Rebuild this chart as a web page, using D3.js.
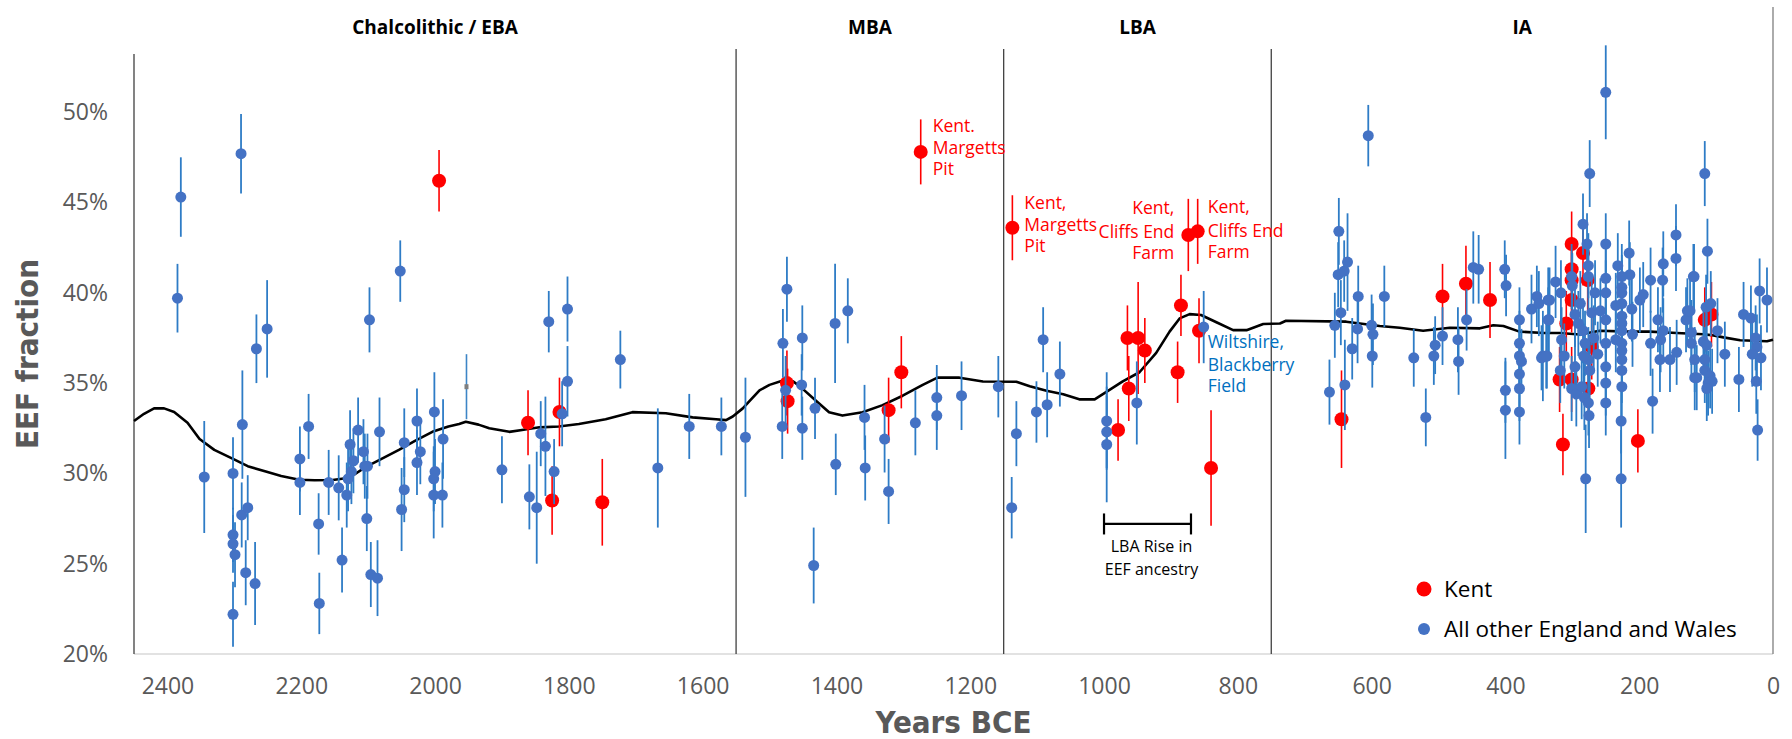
<!DOCTYPE html>
<html>
<head>
<meta charset="utf-8">
<script src="https://cdn.jsdelivr.net/npm/d3@7"></script>
<style>
  html, body { margin: 0; padding: 0; background: #ffffff; }
  svg { display: block; }
  .tick text { font-family: "Open Sans", "Noto Sans", sans-serif; font-size: 23px; fill: #595959; }
</style>
</head>
<body>
<svg id="chart" width="1792" height="739"></svg>
<script>
// Period divisions and axis ticks
const periodBounds = [2450, 1550, 1150, 750, 0];
const periodNames = ["Chalcolithic / EBA", "MBA", "LBA", "IA"];
const xTicks = [2400, 2200, 2000, 1800, 1600, 1400, 1200, 1000, 800, 600, 400, 200, 0];
const yTicks = [20, 25, 30, 35, 40, 45, 50];

// Kent samples: [years BCE, EEF %, error half-width %]
const kentPoints = [
  [1994, 46.2, 1.7], [1861, 32.8, 1.8], [1814, 33.4, 1.9], [1825, 28.5, 1.9], [1750, 28.4, 2.4],
  [1474, 35.0, 1.8], [1473, 34.0, 1.8], [1322, 33.5, 1.8], [1303, 35.6, 2.0], [1274, 47.8, 1.8],
  [1137, 43.6, 1.8], [979, 32.4, 1.7], [965, 37.5, 1.8], [963, 34.7, 1.8], [949, 37.5, 3.1],
  [939, 36.8, 1.8], [890, 35.6, 1.7], [885, 39.3, 1.7], [874, 43.2, 2.0], [860, 43.4, 1.8],
  [858, 37.9, 1.8], [840, 30.3, 3.2], [645, 33.0, 2.7], [494, 39.8, 1.8], [459, 40.5, 2.1],
  [423, 39.6, 2.1], [301, 42.7, 1.8], [284, 42.2, 1.8], [301, 41.3, 1.8], [301, 40.7, 1.8],
  [301, 39.6, 1.8], [277, 40.7, 1.8], [309, 38.3, 1.8], [271, 37.0, 1.8], [319, 35.2, 1.8],
  [301, 35.2, 1.8], [276, 34.7, 1.8], [314, 31.6, 1.7], [202, 31.8, 1.75], [102, 38.5, 1.8],
  [92, 38.8, 1.8]
];

// All other England and Wales samples: [years BCE, EEF %, error half-width %]
const otherPoints = [
  [2380, 45.3, 2.2], [2385, 39.7, 1.9], [2290, 47.7, 2.2], [2345, 29.8, 3.1], [2302, 30.0, 2.0],
  [2288, 32.7, 3.0], [2267, 36.9, 1.9], [2251, 38.0, 2.7], [2302, 26.6, 1.5], [2302, 26.1, 1.6],
  [2299, 25.5, 1.8], [2302, 22.2, 1.8], [2289, 27.7, 1.8], [2280, 28.1, 1.8], [2283, 24.5, 1.8],
  [2269, 23.9, 2.3], [2202, 30.8, 1.8], [2202, 29.5, 1.8], [2189, 32.6, 1.8], [2174, 27.2, 1.7],
  [2173, 22.8, 1.7], [2159, 29.5, 1.8], [2144, 29.2, 1.8], [2139, 25.2, 1.8], [2132, 28.8, 1.8],
  [2130, 29.7, 1.8], [2127, 31.6, 1.9], [2122, 30.7, 1.8], [2125, 30.1, 1.8], [2115, 32.4, 1.8],
  [2107, 31.2, 1.8], [2105, 30.4, 1.8], [2102, 27.5, 1.8], [2101, 30.4, 1.8], [2098, 38.5, 1.8],
  [2096, 24.4, 1.8], [2086, 24.2, 2.1], [2083, 32.3, 1.9], [2052, 41.2, 1.7], [2050, 28.0, 2.3],
  [2046, 31.7, 1.9], [2046, 29.1, 1.8], [2027, 32.9, 1.8], [2027, 30.6, 1.8], [2022, 31.2, 1.8],
  [2001, 33.4, 2.2], [2000, 30.1, 1.8], [2002, 29.7, 1.8], [2002, 28.8, 2.4], [1988, 31.9, 2.2],
  [1989, 28.8, 1.8],
  [1900, 30.2, 1.85], [1859, 28.7, 1.8], [1848, 28.1, 3.1], [1842, 32.2, 1.8], [1835, 31.5, 2.75],
  [1830, 38.4, 1.7], [1822, 30.1, 1.8], [1810, 33.3, 1.8], [1802, 39.1, 1.8], [1802, 35.1, 1.95],
  [1723, 36.3, 1.6], [1667, 30.3, 3.3], [1620, 32.6, 1.8], [1572, 32.6, 1.6], [1536, 32.0, 3.3],
  [1474, 40.2, 1.8], [1480, 37.2, 1.9], [1476, 34.6, 1.9], [1481, 32.6, 1.8], [1451, 37.5, 1.8],
  [1452, 34.9, 1.7], [1451, 32.5, 1.75], [1432, 33.6, 1.7], [1434, 24.9, 2.1], [1402, 38.3, 3.3],
  [1401, 30.5, 1.7], [1383, 39.0, 1.8], [1358, 33.1, 1.8], [1357, 30.3, 1.8], [1328, 31.9, 1.85],
  [1322, 29.0, 1.8], [1282, 32.8, 1.8], [1250, 34.2, 1.8], [1250, 33.2, 1.9], [1213, 34.3, 1.9],
  [1158, 34.8, 1.7],
  [1138, 28.1, 1.7], [1131, 32.2, 1.8], [1101, 33.4, 1.7], [1091, 37.4, 1.8], [1085, 33.8, 1.8],
  [1066, 35.5, 1.8], [996, 32.9, 2.7], [996, 32.3, 2.0], [996, 31.6, 3.2], [951, 33.9, 2.3],
  [851, 38.1, 2.0],
  [663, 34.5, 1.8], [655, 38.2, 1.8], [649, 43.4, 1.85], [650, 41.0, 1.8], [641, 41.2, 1.7],
  [636, 41.7, 2.7], [646, 38.9, 1.8], [640, 34.9, 2.5], [629, 36.9, 1.7], [621, 38.0, 1.9],
  [620, 39.8, 1.7], [605, 48.7, 1.7], [600, 38.2, 1.7], [598, 37.7, 1.7], [599, 36.5, 1.75],
  [581, 39.8, 1.7], [537, 36.4, 1.6], [519, 33.1, 1.6], [505, 37.1, 1.6], [507, 36.5, 1.6],
  [494, 37.6, 1.6], [471, 37.4, 1.8], [470, 36.2, 1.85], [458, 38.5, 1.7], [448, 41.4, 2.0],
  [440, 41.3, 1.9],
  [401, 41.3, 1.6], [399, 40.4, 1.7], [400, 34.6, 1.8], [400, 33.5, 2.7], [379, 38.5, 1.8],
  [379, 37.2, 1.8], [379, 36.5, 1.8], [376, 36.2, 1.8], [379, 35.5, 1.8], [379, 34.7, 1.8],
  [379, 33.4, 1.8], [361, 39.1, 1.9], [353, 39.8, 1.7], [350, 39.4, 1.8], [344, 36.5, 2.5],
  [346, 36.4, 1.8], [336, 39.6, 1.8], [336, 38.5, 1.8], [338, 36.5, 1.8],
  [334, 39.6, 1.8], [325, 40.6, 2.0], [317, 40.0, 1.8], [335, 38.5, 1.8], [339, 36.5, 1.8],
  [316, 37.4, 1.8], [312, 36.5, 1.8], [318, 35.7, 1.8], [301, 40.9, 1.8], [300, 40.4, 1.8],
  [296, 38.8, 1.8], [291, 38.3, 1.8], [284, 37.9, 1.8], [281, 37.2, 1.8], [276, 36.3, 1.8],
  [274, 35.7, 1.8], [296, 35.9, 1.8], [301, 34.7, 1.8], [294, 34.4, 1.8], [286, 34.8, 1.8],
  [282, 34.2, 1.8], [276, 33.9, 1.8], [275, 33.2, 1.8], [280, 29.7, 3.0], [276, 41.5, 1.8],
  [276, 40.9, 1.8], [266, 40.0, 1.8], [274, 46.6, 1.85], [284, 43.8, 1.7], [278, 42.7, 1.7],
  [250, 42.7, 1.7], [250, 40.8, 1.8], [250, 40.0, 1.8], [250, 38.5, 1.8], [250, 37.2, 1.8],
  [250, 35.9, 1.8], [250, 35.0, 1.8], [250, 33.9, 1.8], [250, 51.1, 2.6], [288, 39.4, 1.8],
  [283, 36.5, 1.8], [271, 38.9, 1.8], [268, 37.5, 1.8], [262, 36.6, 1.8], [258, 39.0, 1.8],
  [232, 41.5, 1.8], [235, 39.3, 1.8], [235, 37.4, 1.8], [227, 32.9, 1.8], [227, 29.7, 2.7],
  [215, 42.2, 1.8], [214, 41.0, 1.8], [226, 40.9, 1.8], [226, 40.3, 1.8], [226, 40.0, 1.8],
  [226, 39.4, 1.8], [211, 39.1, 1.8], [226, 38.7, 1.8], [226, 38.3, 1.8], [226, 37.9, 1.8],
  [226, 37.2, 1.8], [210, 37.7, 1.8], [226, 36.8, 1.8], [226, 36.3, 1.8], [226, 35.7, 1.8],
  [226, 34.8, 1.8],
  [199, 39.6, 1.8], [194, 39.9, 1.8], [183, 40.7, 1.8], [183, 37.2, 1.8], [180, 34.0, 1.8],
  [172, 38.5, 1.8], [164, 41.6, 1.8], [165, 40.7, 1.8], [164, 37.9, 1.8], [168, 37.4, 1.8],
  [169, 36.3, 1.8], [154, 36.3, 1.8], [144, 36.7, 1.8], [145, 43.2, 1.7], [145, 41.9, 1.8],
  [119, 40.9, 1.8], [130, 38.5, 1.8], [128, 39.0, 1.8], [122, 37.2, 1.8], [117, 35.3, 1.8],
  [102, 46.6, 1.8], [98, 42.3, 1.8], [118, 40.9, 1.8], [124, 39.0, 1.8], [100, 39.2, 1.8],
  [93, 39.4, 1.8], [83, 37.9, 1.8], [122, 37.8, 1.8], [104, 37.3, 1.8], [99, 37.1, 1.8],
  [117, 36.3, 1.8], [102, 36.3, 1.8], [102, 35.7, 1.8], [114, 35.3, 1.8], [94, 35.4, 1.8],
  [97, 35.0, 1.8], [91, 35.1, 1.8], [99, 34.7, 1.8], [72, 36.6, 1.8], [51, 35.2, 1.8],
  [44, 38.8, 1.8], [33, 38.6, 1.8], [20, 40.1, 1.8], [9, 39.6, 1.8], [26, 37.5, 1.8],
  [24, 37.0, 1.8], [18, 36.4, 1.8], [31, 36.6, 1.8], [25, 35.1, 1.8], [23, 32.4, 1.7]
];

// One sample drawn with a minimal marker
const minorPoints = [[1953, 34.8, 1.8]];

// Smoothed EEF trend: [years BCE, EEF %]
const trendPoints = [
  [2450, 32.9], [2435, 33.3], [2420, 33.6], [2405, 33.6], [2390, 33.4], [2370, 32.8], [2352, 31.9],
  [2330, 31.3], [2302, 30.8], [2280, 30.4], [2253, 30.1], [2230, 29.85], [2203, 29.65], [2180, 29.62],
  [2153, 29.63], [2128, 29.76], [2104, 30.35], [2080, 30.8], [2054, 31.3], [2030, 31.8], [2004, 32.3],
  [1980, 32.6], [1964, 32.73], [1954, 32.86], [1935, 32.7], [1919, 32.5], [1889, 32.3], [1870, 32.4],
  [1844, 32.55], [1815, 32.6], [1785, 32.73], [1745, 33.0], [1705, 33.39], [1655, 33.33], [1615, 33.1],
  [1580, 33.0], [1565, 32.95], [1555, 33.15], [1540, 33.6], [1530, 34.0], [1515, 34.6], [1500, 34.9],
  [1480, 35.14], [1465, 35.1], [1455, 34.83], [1431, 34.04], [1411, 33.39], [1391, 33.2], [1361, 33.39],
  [1331, 33.78], [1301, 34.3], [1271, 34.9], [1249, 35.3], [1216, 35.3], [1181, 35.09], [1131, 35.07],
  [1111, 34.83], [1086, 34.57], [1061, 34.38], [1037, 34.1], [1014, 34.1], [997, 34.5], [972, 35.09],
  [947, 35.6], [922, 36.67], [902, 37.85], [887, 38.58], [872, 38.82], [855, 38.77], [832, 38.37],
  [807, 37.93], [787, 37.93], [762, 38.27], [737, 38.3], [728, 38.45], [638, 38.4], [588, 38.16],
  [558, 38.06], [523, 37.9], [483, 38.06], [438, 38.03], [418, 38.2], [403, 38.16], [379, 37.85],
  [343, 37.77], [319, 37.77], [289, 37.69], [259, 37.9], [214, 37.85], [184, 37.85], [144, 37.77],
  [104, 37.7], [89, 37.64], [74, 37.53], [49, 37.37], [9, 37.32], [0, 37.4]
];

// Rise in EEF ancestry during the LBA
const riseSpan = [1000, 870];
const riseLevel = 27.2;

const svg = d3.select("#chart");
const plotLeft = 134, plotRight = 1773, plotTop = 54, plotBottom = 654;

const x = d3.scaleLinear().domain([2450, 0]).range([plotLeft, plotRight]);
const y = d3.scaleLinear().domain([20, 53.22]).range([plotBottom, plotTop]);

const sans = '"Open Sans", "Noto Sans", sans-serif';
const narrow = '"Liberation Sans Narrow", "DejaVu Sans Condensed", "Arial Narrow", sans-serif';

// Axis lines
svg.append("line").attr("x1", plotLeft).attr("x2", plotRight).attr("y1", plotBottom).attr("y2", plotBottom)
  .attr("stroke", "#d9d9d9").attr("stroke-width", 1.5);
svg.append("line").attr("x1", plotLeft).attr("x2", plotLeft).attr("y1", plotTop).attr("y2", plotBottom)
  .attr("stroke", "#404040").attr("stroke-width", 1.3);
svg.append("line").attr("x1", plotRight).attr("x2", plotRight).attr("y1", 7).attr("y2", plotBottom)
  .attr("stroke", "#7f7f7f").attr("stroke-width", 1.3);

// Period dividers
svg.selectAll(".divider").data(periodBounds.slice(1, -1)).join("line")
  .attr("class", "divider")
  .attr("x1", d => x(d)).attr("x2", d => x(d))
  .attr("y1", 49).attr("y2", plotBottom)
  .attr("stroke", "#404040").attr("stroke-width", 1.3);

// Period names
svg.selectAll(".period").data(periodNames).join("text")
  .attr("class", "period")
  .attr("x", (d, i) => x((periodBounds[i] + periodBounds[i + 1]) / 2))
  .attr("y", 34)
  .attr("text-anchor", "middle")
  .attr("font-family", sans).attr("font-weight", 700).attr("font-size", 19)
  .attr("fill", "#000")
  .text(d => d);

// Axes
const xAxis = svg.append("g").attr("transform", `translate(0,${plotBottom})`)
  .call(d3.axisBottom(x).tickValues(xTicks).tickSize(0).tickPadding(24).tickFormat(d3.format("d")));
xAxis.select(".domain").remove();

const yAxis = svg.append("g").attr("transform", `translate(${plotLeft},0)`)
  .call(d3.axisLeft(y).tickValues(yTicks).tickSize(0).tickPadding(26).tickFormat(d => d + "%"));
yAxis.select(".domain").remove();

// Axis titles
svg.append("text")
  .attr("x", (plotLeft + plotRight) / 2).attr("y", 733)
  .attr("text-anchor", "middle")
  .attr("font-family", narrow).attr("font-weight", 700).attr("font-size", 31)
  .attr("fill", "#595959")
  .text("Years BCE");

svg.append("text")
  .attr("transform", `translate(38,${(plotTop + plotBottom) / 2}) rotate(-90)`)
  .attr("text-anchor", "middle")
  .attr("font-family", narrow).attr("font-weight", 700).attr("font-size", 31)
  .attr("fill", "#595959")
  .text("EEF fraction");

// Trend line
const trendLine = d3.line().x(d => x(d[0])).y(d => y(d[1]));
svg.append("path").datum(trendPoints)
  .attr("d", trendLine)
  .attr("fill", "none").attr("stroke", "#000").attr("stroke-width", 2.6)
  .attr("stroke-linejoin", "round");

// Points with error bars
function drawSeries(points, barColor, fill, r, barWidth) {
  const g = svg.append("g");
  g.selectAll("line").data(points).join("line")
    .attr("x1", d => x(d[0])).attr("x2", d => x(d[0]))
    .attr("y1", d => y(d[1] + d[2])).attr("y2", d => y(d[1] - d[2]))
    .attr("stroke", barColor).attr("stroke-width", barWidth);
  g.selectAll("circle").data(points).join("circle")
    .attr("cx", d => x(d[0])).attr("cy", d => y(d[1])).attr("r", r)
    .attr("fill", fill);
}

drawSeries(kentPoints, "#ff0000", "#ff0000", 7, 1.6);
drawSeries(minorPoints, "#3d85c6", "none", 0, 1.6);
svg.selectAll(".minor").data(minorPoints).join("rect")
  .attr("class", "minor")
  .attr("x", d => x(d[0]) - 2).attr("y", d => y(d[1]) - 2.5)
  .attr("width", 4).attr("height", 5).attr("fill", "#7f7f7f");
drawSeries(otherPoints, "#2e7cc6", "#4472c4", 5.5, 1.8);

// Site annotations
function note(lines, year, val, dx, anchor, color, offsets) {
  const t = svg.append("text")
    .attr("font-family", sans).attr("font-size", 17.5).attr("fill", color)
    .attr("text-anchor", anchor);
  lines.forEach((s, i) => {
    t.append("tspan")
      .attr("x", x(year) + dx)
      .attr("y", y(val) + offsets[i] + 6)
      .text(s);
  });
}
const kentRed = "#ff0000";
note(["Kent.", "Margetts", "Pit"], 1274, 47.8, 12, "start", kentRed, [-26, -4, 17]);
note(["Kent,", "Margetts", "Pit"], 1137, 43.6, 12, "start", kentRed, [-25, -3, 18]);
note(["Kent,", "Cliffs End", "Farm"], 874, 43.2, -14, "end", kentRed, [-27, -3, 18]);
note(["Kent,", "Cliffs End", "Farm"], 860, 43.4, 10, "start", kentRed, [-24, 0, 21]);
note(["Wiltshire,", "Blackberry", "Field"], 851, 38.1, 4, "start", "#0070c0", [15, 38, 59]);

// LBA rise bracket
const by = y(riseLevel);
const bracket = svg.append("g").attr("stroke", "#000").attr("stroke-width", 2.2);
bracket.append("line").attr("x1", x(riseSpan[0])).attr("x2", x(riseSpan[1])).attr("y1", by).attr("y2", by);
riseSpan.forEach(d => bracket.append("line")
  .attr("x1", x(d)).attr("x2", x(d)).attr("y1", by - 10.5).attr("y2", by + 10.5));
const riseText = svg.append("text")
  .attr("font-family", sans).attr("font-size", 16).attr("fill", "#000")
  .attr("text-anchor", "middle");
["LBA Rise in", "EEF ancestry"].forEach((s, i) => riseText.append("tspan")
  .attr("x", x((riseSpan[0] + riseSpan[1]) / 2) + 4).attr("y", by + 28 + i * 23).text(s));

// Legend
const legend = svg.append("g").attr("font-family", sans).attr("font-size", 22.5).attr("fill", "#000");
[["Kent", "#ff0000", 7.5, 589], ["All other England and Wales", "#4472c4", 6, 629]].forEach(([label, c, r, ly]) => {
  legend.append("circle").attr("cx", 1424).attr("cy", ly).attr("r", r).attr("fill", c);
  legend.append("text").attr("x", 1444).attr("y", ly + 8).text(label);
});
</script>
</body>
</html>
